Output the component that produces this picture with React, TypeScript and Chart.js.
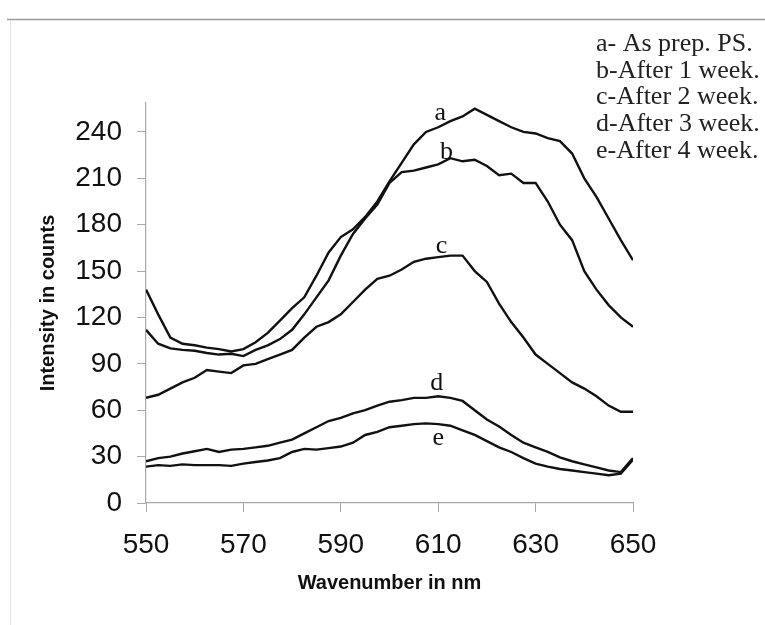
import React, { useEffect, useRef } from 'react';
import { Chart, registerables } from 'chart.js';

Chart.register(...registerables);

// Wavelength (nm) sampling positions
const wavelengths = [
  550, 552.5, 555, 557.5, 560, 562.5, 565, 567.5, 570, 572.5,
  575, 577.5, 580, 582.5, 585, 587.5, 590, 592.5, 595, 597.5,
  600, 602.5, 605, 607.5, 610, 612.5, 615, 617.5, 620, 622.5,
  625, 627.5, 630, 632.5, 635, 637.5, 640, 642.5, 645, 647.5, 650,
];

// a - As prep. PS.
const seriesA = [
  138, 122, 107, 103, 102, 100.5, 99.5, 98, 99.5, 104,
  110, 118, 126, 133, 147, 162, 172, 177, 185, 195,
  208, 220, 232, 240, 243, 247, 250, 255, 251, 247,
  243, 240, 239, 236, 234, 226, 210, 198, 184, 170, 157,
];
// b - After 1 week
const seriesB = [
  112, 103, 100, 99, 98.5, 97, 96, 96.5, 95, 99,
  102, 106, 112, 122, 133, 144, 160, 174, 184, 193,
  207, 214, 215, 217, 219, 223, 221, 222, 218, 212,
  213, 207, 207, 195, 180, 170, 150, 138, 128, 120, 114,
];
// c - After 2 week
const seriesC = [
  68, 70, 74, 78, 81, 86, 85, 84, 89, 90,
  93, 96, 99, 107, 114, 117, 122, 130, 138, 145,
  147, 151, 156, 158, 159, 160, 160, 150, 143, 129,
  117, 107, 96, 90, 84, 78, 74, 69, 63, 59, 59,
];
// d - After 3 week
const seriesD = [
  27, 29, 30, 32, 33.5, 35, 33, 34.5, 35, 36,
  37, 39, 41, 45, 49, 53, 55, 58, 60, 63,
  65.5, 66.5, 68, 68, 69, 68, 66, 60, 54, 49.5,
  44, 39, 36, 33, 29.5, 27, 25, 23, 21, 20, 29,
];
// e - After 4 week
const seriesE = [
  23.5, 24.5, 24, 25, 24.5, 24.5, 24.5, 24, 25.5, 26.5,
  27.5, 29, 33, 35, 34.5, 35.5, 36.5, 39, 44, 46,
  49, 50, 51, 51.5, 51, 50, 47, 44, 40, 36,
  33, 29, 25.5, 23.5, 22, 21, 20, 19, 18, 19, 28,
];

const seriesNames = ['a', 'b', 'c', 'd', 'e'];
const legendLines = [
  'a- As prep. PS.',
  'b-After 1 week.',
  'c-After 2 week.',
  'd-After 3 week.',
  'e-After 4 week.',
];
// curve letters, anchored in data coordinates (nm, counts)
const curveLabelX = [610.4, 611.7, 610.7, 609.7, 610];
const curveLabelY = [252, 227, 166, 77.5, 42];

const xTicks = [550, 570, 590, 610, 630, 650];
const yTicks = [0, 30, 60, 90, 120, 150, 180, 210, 240];

const decorPlugin = {
  id: 'decor',
  beforeDraw(chart: any) {
    const ctx = chart.ctx;
    ctx.save();
    ctx.fillStyle = '#ffffff';
    ctx.fillRect(0, 0, chart.width, chart.height);
    ctx.strokeStyle = '#9a9a9a';
    ctx.lineWidth = 1.5;
    ctx.beginPath();
    ctx.moveTo(7, 19.5);
    ctx.lineTo(chart.width, 19.5);
    ctx.stroke();
    ctx.strokeStyle = '#e2e2e2';
    ctx.lineWidth = 1;
    ctx.beginPath();
    ctx.moveTo(10.5, 20);
    ctx.lineTo(10.5, chart.height);
    ctx.stroke();
    ctx.restore();
  },
  afterDatasetsDraw(chart: any) {
    const ctx = chart.ctx;
    const xs = chart.scales.x;
    const ys = chart.scales.y;
    ctx.save();
    ctx.fillStyle = '#111';
    ctx.font = '26px "Liberation Serif", "Times New Roman", serif';
    ctx.textAlign = 'center';
    ctx.textBaseline = 'middle';
    seriesNames.forEach((n, i) => {
      ctx.fillText(n, xs.getPixelForValue(curveLabelX[i]), ys.getPixelForValue(curveLabelY[i]));
    });
    ctx.textAlign = 'left';
    ctx.fillStyle = '#222';
    ctx.font = '26px "Liberation Serif", "Times New Roman", serif';
    legendLines.forEach((t, i) => {
      ctx.fillText(t, 596, 44 + i * 26.8);
    });
    ctx.restore();
  },
};

export default function App() {
  const canvasRef = useRef<HTMLCanvasElement | null>(null);

  useEffect(() => {
    const canvas = canvasRef.current;
    if (!canvas) return;
    const all = [seriesA, seriesB, seriesC, seriesD, seriesE];
    const chart = new Chart(canvas, {
      type: 'line',
      data: {
        datasets: all.map((arr, i) => ({
          label: seriesNames[i],
          data: wavelengths.map((x, j) => ({ x, y: arr[j] })),
          borderColor: '#111',
          borderWidth: 2.4,
          pointRadius: 0,
          tension: 0,
          fill: false,
        })),
      },
      options: {
        animation: false,
        responsive: false,
        maintainAspectRatio: false,
        layout: { padding: { top: 103, right: 132, left: 0, bottom: 0 } },
        plugins: {
          legend: { display: false },
          tooltip: { enabled: false },
        },
        scales: {
          x: {
            type: 'linear',
            min: 550,
            max: 650,
            afterBuildTicks: (s: any) => {
              s.ticks = xTicks.map((v) => ({ value: v }));
            },
            afterFit: (s: any) => {
              s.height = 122;
            },
            ticks: {
              color: '#111',
              padding: 16,
              maxRotation: 0,
              font: { family: '"Liberation Sans", Arial, sans-serif', size: 28 },
            },
            grid: { drawOnChartArea: false, drawTicks: true, tickLength: 9, color: '#a8a8a8' },
            border: { color: '#a8a8a8', width: 1.2 },
            title: {
              display: true,
              text: 'Wavenumber in nm',
              color: '#111',
              padding: { top: 0, bottom: 30 },
              font: { family: '"Liberation Sans", Arial, sans-serif', size: 20, weight: 'bold' },
            },
          },
          y: {
            type: 'linear',
            min: 0,
            max: 258.7,
            afterBuildTicks: (s: any) => {
              s.ticks = yTicks.map((v) => ({ value: v }));
            },
            afterFit: (s: any) => {
              s.width = 146;
            },
            ticks: {
              color: '#111',
              padding: 15,
              font: { family: '"Liberation Sans", Arial, sans-serif', size: 28 },
            },
            grid: { drawOnChartArea: false, drawTicks: true, tickLength: 9, color: '#a8a8a8' },
            border: { color: '#a8a8a8', width: 1.2 },
            title: {
              display: true,
              text: 'Intensity in counts',
              color: '#111',
              padding: { top: 36, bottom: 0 },
              font: { family: '"Liberation Sans", Arial, sans-serif', size: 20, weight: 'bold' },
            },
          },
        },
      } as any,
      plugins: [decorPlugin],
    });
    return () => chart.destroy();
  }, []);

  return (
    <div style={{ position: 'absolute', left: 0, top: 0, width: 765, height: 625 }}>
      <canvas ref={canvasRef} width={765} height={625} style={{ width: 765, height: 625 }} />
    </div>
  );
}
